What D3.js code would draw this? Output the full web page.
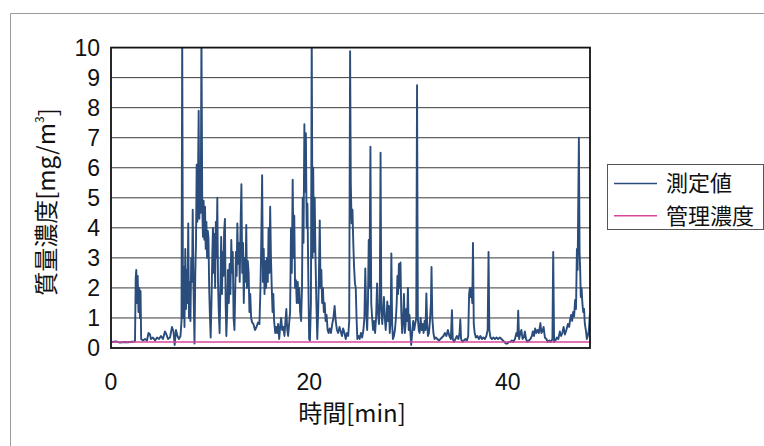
<!DOCTYPE html>
<html>
<head>
<meta charset="utf-8">
<script src="https://cdn.jsdelivr.net/npm/d3@7"></script>
<style>
  body { margin: 0; background: #fff; }
  svg { display: block; }
  .tick-label { font-family: "Liberation Sans Narrow", "Liberation Sans", Arial, sans-serif; font-size: 23px; fill: #111; }
  .jp { font-family: "Noto Sans CJK JP", sans-serif; fill: #111; }
</style>
</head>
<body>
<svg id="chart" width="764" height="446"></svg>
<script>
// [minute, mg/m3]
const measuredSeries = [
  [0.10,0.2],[0.50,0.22],[0.91,0.18],[1.31,0.2],[1.71,0.19],[2.12,0.21],[2.42,0.22],
  [2.49,2.3],[2.55,2.6],[2.62,1.5],[2.69,2.4],[2.77,1.2],[2.85,2.0],[2.92,1.0],[2.98,1.9],[3.04,0.3],
  [3.23,0.25],[3.43,0.3],[3.63,0.25],[3.78,0.5],[3.93,0.45],[4.03,0.3],[4.23,0.35],[4.44,0.25],
  [4.64,0.35],[4.84,0.3],[5.04,0.4],[5.24,0.3],[5.44,0.55],[5.59,0.45],[5.75,0.3],[5.95,0.35],
  [6.15,0.7],[6.30,0.55],[6.42,0.1],[6.55,0.6],[6.70,0.4],[6.85,0.3],[7.01,0.4],[7.11,0.9],
  [7.18,10.5],[7.26,1.0],[7.34,2.7],[7.41,0.7],[7.49,3.3],[7.56,1.3],[7.64,2.6],[7.71,1.5],
  [7.79,4.15],[7.86,1.0],[7.94,2.2],[8.01,0.9],[8.09,3.0],[8.17,2.2],[8.24,4.6],[8.32,2.0],
  [8.42,0.15],[8.50,2.5],[8.57,3.5],[8.64,6.1],[8.71,4.2],[8.77,5.5],[8.84,7.9],[8.91,4.3],
  [8.98,6.0],[9.05,4.5],[9.12,10.5],[9.20,4.8],[9.27,3.7],[9.34,4.9],[9.41,3.6],[9.48,4.7],
  [9.55,3.3],[9.62,4.2],[9.69,3.0],[9.76,3.9],[9.83,3.65],[9.90,2.0],[9.98,1.0],[10.05,0.35],
  [10.13,1.5],[10.21,3.0],[10.28,4.0],[10.36,2.5],[10.43,3.8],[10.50,2.0],[10.57,4.2],[10.64,3.0],
  [10.72,5.0],[10.79,2.2],[10.87,1.2],[10.95,0.5],[11.03,2.0],[11.11,3.7],[11.19,1.8],[11.27,3.2],
  [11.34,2.4],[11.41,3.9],[11.49,4.3],[11.56,1.5],[11.63,0.4],[11.71,1.2],[11.79,2.6],[11.88,1.5],
  [11.96,2.8],[12.04,1.8],[12.13,3.6],[12.20,2.5],[12.28,3.2],[12.36,1.0],[12.45,0.6],[12.53,2.0],
  [12.60,3.2],[12.67,2.4],[12.74,4.15],[12.82,2.8],[12.90,3.5],[12.98,2.2],[13.06,4.0],[13.15,5.45],
  [13.23,2.5],[13.31,3.5],[13.39,1.5],[13.47,3.0],[13.55,2.2],[13.64,4.1],[13.71,2.0],[13.79,2.9],
  [13.88,2.5],[13.96,1.2],[14.04,1.8],[14.13,1.0],[14.23,0.85],[14.36,0.8],[14.52,0.6],[14.67,0.7],
  [14.82,0.85],[14.97,0.8],[15.07,2.0],[15.15,3.5],[15.24,5.75],[15.32,2.2],[15.40,3.3],[15.48,1.8],
  [15.56,2.9],[15.64,2.0],[15.73,3.0],[15.81,2.2],[15.89,4.0],[15.97,2.5],[16.05,4.7],[16.13,3.0],
  [16.21,2.0],[16.29,1.2],[16.37,1.8],[16.45,0.9],[16.56,0.5],[16.66,0.7],[16.76,0.5],[16.85,0.8],
  [16.96,0.3],[17.06,0.7],[17.16,1.0],[17.26,0.6],[17.37,0.7],[17.49,0.4],[17.59,0.9],[17.68,1.3],
  [17.77,0.6],[17.86,0.4],[17.96,0.8],[18.06,1.2],[18.15,4.0],[18.23,2.5],[18.32,5.6],[18.40,3.0],
  [18.48,4.4],[18.56,2.0],[18.65,2.26],[18.73,1.5],[18.83,2.2],[18.91,1.5],[18.99,2.0],[19.07,1.2],
  [19.17,0.9],[19.26,2.0],[19.33,5.0],[19.41,3.5],[19.50,7.45],[19.57,5.2],[19.65,7.15],[19.73,4.0],
  [19.81,4.8],[19.89,2.5],[19.98,0.3],[20.06,0.25],[20.16,1.5],[20.24,10.5],[20.32,3.0],[20.39,6.0],
  [20.46,3.2],[20.54,5.0],[20.62,3.0],[20.71,1.5],[20.80,0.3],[20.89,1.2],[20.97,2.5],[21.05,4.25],
  [21.13,2.0],[21.21,2.6],[21.29,1.5],[21.37,2.0],[21.46,1.2],[21.55,1.5],[21.64,0.9],[21.74,1.1],
  [21.84,0.6],[21.94,0.5],[22.05,0.65],[22.18,0.5],[22.31,0.8],[22.43,1.0],[22.55,1.4],[22.66,0.9],
  [22.78,0.6],[22.90,0.5],[23.04,0.7],[23.16,0.55],[23.29,0.4],[23.41,0.65],[23.54,0.5],[23.67,0.3],
  [23.79,0.5],[23.92,0.4],[24.02,0.9],[24.11,9.88],[24.18,5.5],[24.26,4.15],[24.35,4.6],[24.43,3.5],
  [24.51,2.7],[24.60,2.15],[24.68,2.0],[24.76,1.0],[24.84,0.3],[24.95,0.4],[25.07,0.3],[25.20,0.5],
  [25.32,0.35],[25.45,0.6],[25.55,1.0],[25.64,2.65],[25.73,1.2],[25.83,0.6],[25.91,1.5],[25.99,3.6],
  [26.06,2.0],[26.16,6.7],[26.24,1.5],[26.33,1.0],[26.43,0.6],[26.53,0.9],[26.63,0.5],[26.73,1.0],
  [26.83,2.15],[26.92,1.2],[27.02,0.8],[27.10,1.5],[27.18,6.5],[27.26,1.3],[27.35,0.8],[27.44,1.3],
  [27.52,1.7],[27.61,1.0],[27.70,0.6],[27.78,1.0],[27.86,1.55],[27.94,0.9],[28.02,1.4],[28.11,0.5],
  [28.20,1.0],[28.27,3.15],[28.35,0.8],[28.43,0.3],[28.53,0.4],[28.63,0.6],[28.73,1.0],[28.81,1.5],
  [28.88,2.4],[28.95,1.8],[29.03,2.8],[29.11,2.0],[29.19,2.85],[29.27,1.2],[29.36,0.5],[29.45,0.9],
  [29.54,1.8],[29.63,0.5],[29.71,0.8],[29.77,1.3],[29.86,0.9],[29.94,2.0],[30.02,0.6],[30.10,1.1],
  [30.19,0.5],[30.27,0.1],[30.37,0.5],[30.47,0.9],[30.58,0.6],[30.67,0.8],[30.78,1.0],[30.86,8.75],
  [30.94,1.0],[31.03,0.6],[31.12,0.5],[31.22,1.0],[31.32,0.6],[31.42,0.8],[31.52,0.5],[31.62,0.9],
  [31.71,0.6],[31.80,1.82],[31.88,0.8],[31.96,0.4],[32.06,0.5],[32.16,0.9],[32.26,1.5],[32.32,2.7],
  [32.40,1.0],[32.51,0.5],[32.63,0.3],[32.76,0.35],[32.91,0.3],[33.06,0.25],[33.22,0.3],[33.37,0.35],
  [33.52,0.4],[33.67,0.5],[33.82,0.4],[33.97,0.6],[34.12,0.4],[34.27,0.3],[34.38,1.26],[34.46,0.3],
  [34.58,0.2],[34.73,0.3],[34.88,0.4],[35.03,0.3],[35.15,0.5],[35.22,0.95],[35.30,0.3],[35.43,0.2],
  [35.58,0.25],[35.74,0.3],[35.89,0.25],[36.02,0.4],[36.11,1.8],[36.19,2.0],[36.27,1.7],[36.35,2.0],
  [36.43,1.5],[36.50,3.5],[36.58,0.8],[36.67,0.5],[36.79,0.35],[36.94,0.4],[37.10,0.3],[37.25,0.4],
  [37.40,0.3],[37.55,0.35],[37.70,0.3],[37.85,0.4],[37.98,0.6],[38.07,3.2],[38.15,0.6],[38.26,0.35],
  [38.41,0.3],[38.56,0.35],[38.71,0.3],[38.88,0.35],[39.04,0.3],[39.21,0.35],[39.37,0.3],[39.52,0.25],
  [39.67,0.2],[39.82,0.15],[39.97,0.15],[40.12,0.2],[40.27,0.2],[40.42,0.25],[40.57,0.2],[40.73,0.3],
  [40.88,0.5],[40.98,0.4],[41.06,1.24],[41.15,0.3],[41.28,0.5],[41.38,0.6],[41.50,0.3],[41.63,0.35],
  [41.73,0.55],[41.85,0.3],[41.99,0.2],[42.14,0.25],[42.29,0.3],[42.44,0.4],[42.54,0.55],[42.66,0.4],
  [42.77,0.65],[42.89,0.5],[43.01,0.6],[43.15,0.5],[43.30,0.83],[43.40,0.5],[43.50,0.55],[43.62,0.7],
  [43.75,0.35],[43.90,0.3],[44.05,0.2],[44.20,0.25],[44.35,0.2],[44.51,0.3],[44.59,3.2],[44.68,0.2],
  [44.81,0.25],[44.96,0.35],[45.11,0.3],[45.26,0.55],[45.39,0.4],[45.51,0.5],[45.64,0.7],[45.77,0.45],
  [45.92,0.6],[46.07,0.8],[46.20,0.7],[46.30,0.95],[46.40,1.1],[46.50,0.9],[46.60,1.2],[46.70,1.05],
  [46.80,1.6],[46.89,1.3],[46.98,3.3],[47.05,2.6],[47.18,7.0],[47.25,3.2],[47.31,2.6],[47.37,1.7],
  [47.45,2.0],[47.53,1.5],[47.61,1.2],[47.70,1.3],[47.78,0.8],[47.88,0.6],[47.98,0.3],[48.08,0.4],
  [48.19,0.6],[48.29,1.15]
];
const controlSeries = [[0, 0.2], [48.3, 0.2]];
const yTickValues = [0, 1, 2, 3, 4, 5, 6, 7, 8, 9, 10];
const xTickValues = [0, 20, 40];
const legendNames = ["測定値", "管理濃度"];
const seriesColors = ["#2a4d7c", "#d9459c"];

const svg = d3.select("#chart");

// outer chart frame (scan edge)
svg.append("path")
  .attr("d", "M10.5,446 V13.5 H764")
  .attr("fill", "none")
  .attr("stroke", "#9a9a9a")
  .attr("stroke-width", 1);

const plot = { left: 111, right: 590, top: 47.6, bottom: 348 };
const x = d3.scaleLinear().domain([0, 48.3]).range([plot.left, plot.right]);
const y = d3.scaleLinear().domain([0, 10]).range([plot.bottom, plot.top]);

// gridlines
svg.append("g")
  .selectAll("line")
  .data(yTickValues.slice(1, -1))
  .join("line")
  .attr("x1", plot.left).attr("x2", plot.right)
  .attr("y1", d => y(d)).attr("y2", d => y(d))
  .attr("stroke", "#3a3a3a")
  .attr("stroke-width", 1);

svg.append("defs").append("clipPath").attr("id", "clip")
  .append("rect")
  .attr("x", plot.left).attr("y", plot.top)
  .attr("width", plot.right - plot.left).attr("height", plot.bottom - plot.top);

const line = d3.line().x(d => x(d[0])).y(d => y(d[1]));

svg.append("path")
  .datum(measuredSeries)
  .attr("clip-path", "url(#clip)")
  .attr("fill", "none")
  .attr("stroke", seriesColors[0])
  .attr("stroke-width", 1.9)
  .attr("stroke-linejoin", "round")
  .attr("d", line);

svg.append("path")
  .datum(controlSeries)
  .attr("fill", "none")
  .attr("stroke", seriesColors[1])
  .attr("stroke-width", 1.6)
  .attr("d", line);

// plot frame
svg.append("rect")
  .attr("x", plot.left).attr("y", plot.top)
  .attr("width", plot.right - plot.left).attr("height", plot.bottom - plot.top)
  .attr("fill", "none")
  .attr("stroke", "#111")
  .attr("stroke-width", 1.8);

// y tick labels
svg.append("g")
  .selectAll("text")
  .data(yTickValues)
  .join("text")
  .attr("class", "tick-label")
  .attr("x", 100)
  .attr("y", d => y(d))
  .attr("dy", "0.36em")
  .attr("text-anchor", "end")
  .text(d => d);

// x tick labels
svg.append("g")
  .selectAll("text")
  .data(xTickValues)
  .join("text")
  .attr("class", "tick-label")
  .attr("x", d => x(d))
  .attr("y", 382)
  .attr("dy", "0.36em")
  .attr("text-anchor", "middle")
  .text(d => d);

// axis titles
svg.append("text")
  .attr("class", "jp")
  .attr("x", 352).attr("y", 413)
  .attr("dy", "0.36em")
  .attr("text-anchor", "middle")
  .attr("font-size", 24)
  .text("時間[min]");

const yTitle = svg.append("text")
  .attr("class", "jp")
  .attr("transform", "translate(46,202) rotate(-90)")
  .attr("dy", "0.36em")
  .attr("text-anchor", "middle")
  .attr("font-size", 24);
yTitle.append("tspan").text("質量濃度[mg/m");
yTitle.append("tspan").attr("font-size", 12).attr("dy", "-0.9em").text("3");
yTitle.append("tspan").attr("dy", "0.54em").text("]");

// legend
const legend = svg.append("g");
legend.append("rect")
  .attr("x", 607.5).attr("y", 164.5)
  .attr("width", 156).attr("height", 65)
  .attr("fill", "#fff")
  .attr("stroke", "#555")
  .attr("stroke-width", 1);
legendNames.forEach((name, i) => {
  const ly = 183.5 + i * 32.3;
  legend.append("line")
    .attr("x1", 614).attr("x2", 657)
    .attr("y1", ly).attr("y2", ly)
    .attr("stroke", seriesColors[i])
    .attr("stroke-width", 1.5);
  legend.append("text")
    .attr("class", "jp")
    .attr("x", 666).attr("y", ly)
    .attr("dy", "0.36em")
    .attr("font-size", 22)
    .text(name);
});
</script>
</body>
</html>
